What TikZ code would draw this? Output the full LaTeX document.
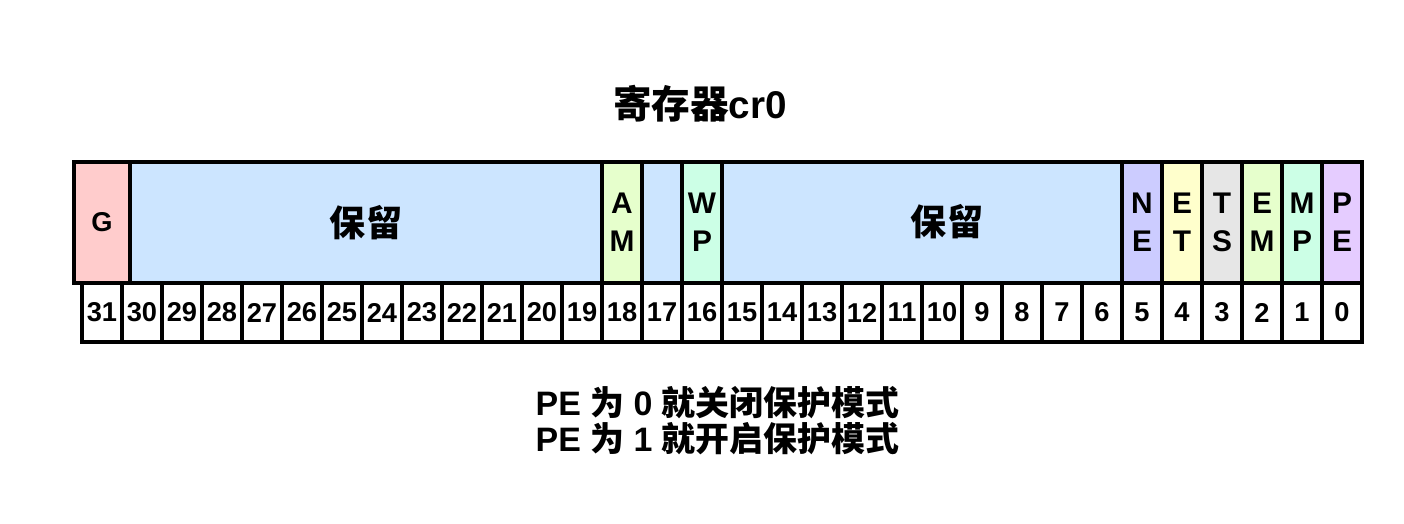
\documentclass[tikz,border=0pt]{standalone}
\usepackage{fontspec}
\setmainfont{Liberation Sans}
\newfontfamily\cjk{Noto Sans CJK SC}
\def\celledge{2pt}
\definecolor{gpink}{HTML}{FFCCCC}
\definecolor{resblue}{HTML}{CCE5FF}
\definecolor{amgreen}{HTML}{E6FFCC}
\definecolor{wpmint}{HTML}{CCFFE6}
\definecolor{nepurple}{HTML}{CCCCFF}
\definecolor{etyellow}{HTML}{FFFFCC}
\definecolor{tsgrey}{HTML}{E6E6E6}
\definecolor{pelilac}{HTML}{E5CCFF}

\begin{document}
\begin{tikzpicture}[x = 0.02cm, y = -0.02cm,
    topcell/.style={draw=black, line width=\celledge, inner sep=0pt, minimum width=0.8cm, minimum height=2.42cm, align=center, font=\bfseries\fontsize{17}{21.6}\selectfont},
    bitcell/.style={draw=black, line width=\celledge, inner sep=0pt, minimum width=0.8cm, minimum height=1.18cm, fill=white, font=\bfseries\fontsize{15.5}{18}\selectfont},
    bigcjk/.style={font=\bfseries\fontsize{20.5}{24}\selectfont\cjk}]

            \useasboundingbox (0,0) rectangle (1404,524);

            \node[font=\bfseries\fontsize{22}{26}\selectfont] (title) at (700,104){{\cjk 寄存器}cr0};

            % register fields
            \node[topcell, fill=gpink, minimum width=1.12cm, font=\bfseries\fontsize{15.5}{18}\selectfont] (g) at (102,222.5){G};
            \node[topcell, fill=resblue, minimum width=9.44cm, bigcjk] (res1) at (366,222.5){保留};
            \node[topcell, fill=amgreen] (am) at (622,222.5){A\\M};
            \node[topcell, fill=resblue] (res17) at (662,222.5){};
            \node[topcell, fill=wpmint] (wp) at (702,222.5){W\\P};
            \node[topcell, fill=resblue, minimum width=8cm] (res2) at (922,222.5){};
            \node[bigcjk] (res2text) at (947,222){保留};
            \node[topcell, fill=nepurple] (ne) at (1142,222.5){N\\E};
            \node[topcell, fill=etyellow] (et) at (1182,222.5){E\\T};
            \node[topcell, fill=tsgrey] (ts) at (1222,222.5){T\\S};
            \node[topcell, fill=amgreen] (em) at (1262,222.5){E\\M};
            \node[topcell, fill=wpmint] (mp) at (1302,222.5){M\\P};
            \node[topcell, fill=pelilac] (pe) at (1342,222.5){P\\E};

            % bit numbers
            \node[bitcell] (n31) at (102,312.5){31};
            \node[bitcell] (n30) at (142,312.5){30};
            \node[bitcell] (n29) at (182,312.5){29};
            \node[bitcell] (n28) at (222,312.5){28};
            \node[bitcell] (n27) at (262,312.5){27};
            \node[bitcell] (n26) at (302,312.5){26};
            \node[bitcell] (n25) at (342,312.5){25};
            \node[bitcell] (n24) at (382,312.5){24};
            \node[bitcell] (n23) at (422,312.5){23};
            \node[bitcell] (n22) at (462,312.5){22};
            \node[bitcell] (n21) at (502,312.5){21};
            \node[bitcell] (n20) at (542,312.5){20};
            \node[bitcell] (n19) at (582,312.5){19};
            \node[bitcell] (n18) at (622,312.5){18};
            \node[bitcell] (n17) at (662,312.5){17};
            \node[bitcell] (n16) at (702,312.5){16};
            \node[bitcell] (n15) at (742,312.5){15};
            \node[bitcell] (n14) at (782,312.5){14};
            \node[bitcell] (n13) at (822,312.5){13};
            \node[bitcell] (n12) at (862,312.5){12};
            \node[bitcell] (n11) at (902,312.5){11};
            \node[bitcell] (n10) at (942,312.5){10};
            \node[bitcell] (n9) at (982,312.5){9};
            \node[bitcell] (n8) at (1022,312.5){8};
            \node[bitcell] (n7) at (1062,312.5){7};
            \node[bitcell] (n6) at (1102,312.5){6};
            \node[bitcell] (n5) at (1142,312.5){5};
            \node[bitcell] (n4) at (1182,312.5){4};
            \node[bitcell] (n3) at (1222,312.5){3};
            \node[bitcell] (n2) at (1262,312.5){2};
            \node[bitcell] (n1) at (1302,312.5){1};
            \node[bitcell] (n0) at (1342,312.5){0};

            \node[align=center, font=\bfseries\fontsize{19.3}{20.5}\selectfont] (note) at (717.5,421){PE {\cjk 为} 0 {\cjk 就关闭保护模式}\\PE {\cjk 为} 1 {\cjk 就开启保护模式}};

        \end{tikzpicture}
\end{document}
